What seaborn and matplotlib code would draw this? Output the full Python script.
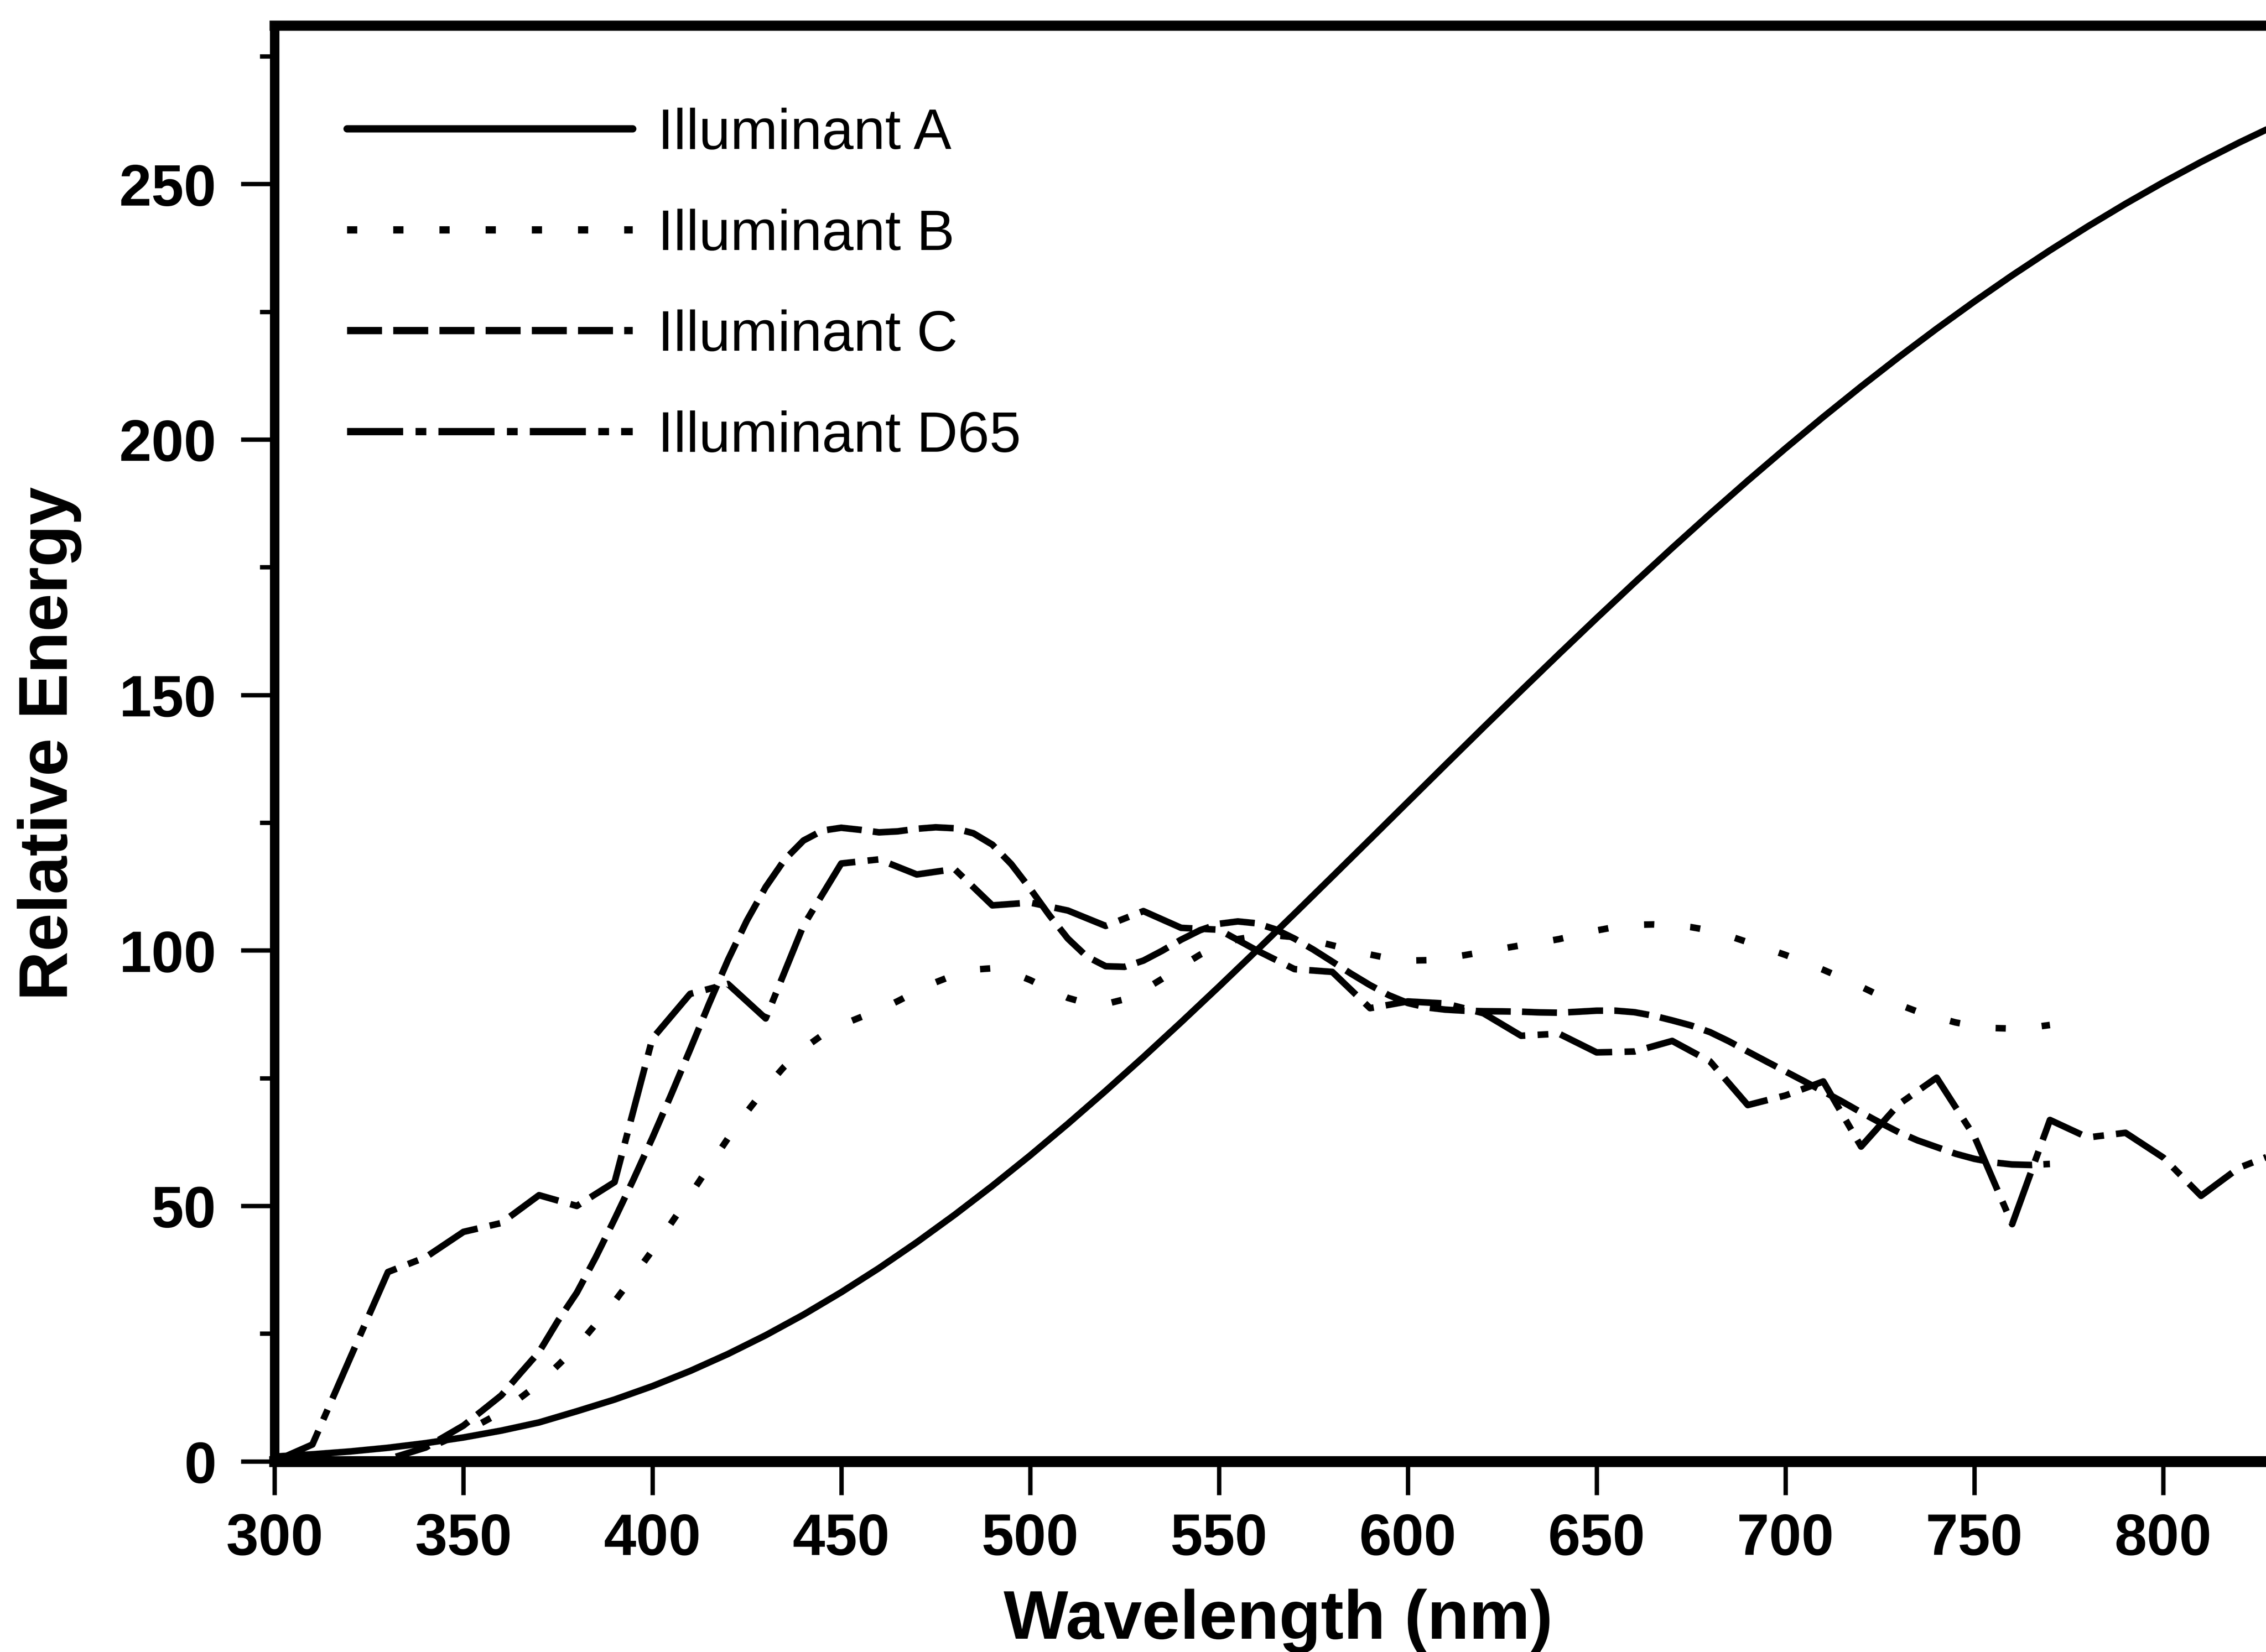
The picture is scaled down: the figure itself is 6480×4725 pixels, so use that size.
import matplotlib
matplotlib.use("Agg")
import matplotlib.pyplot as plt
import seaborn as sns
from matplotlib.ticker import MultipleLocator

# ---------------- data ----------------
wavelength_a = list(range(300, 831, 10))
illuminant_a = [0.93, 1.37, 1.93, 2.65, 3.56, 4.67, 6.01, 7.61, 9.80, 12.09,
                14.71, 17.68, 21.00, 24.67, 28.70, 33.09, 37.81, 42.87, 48.24, 53.91,
                59.86, 66.06, 72.50, 79.13, 85.95, 92.91, 100.00, 107.18, 114.44, 121.73,
                129.04, 136.35, 143.62, 150.84, 157.98, 165.03, 171.96, 178.77, 185.43, 191.93,
                198.26, 204.41, 210.36, 216.12, 221.67, 227.00, 232.12, 237.01, 241.68, 246.12,
                250.33, 254.31, 258.07, 261.60]

wavelength_bc = list(range(320, 771, 5))
illuminant_b = [0.02, 0.26, 0.50, 1.45, 2.40, 4.00, 5.60, 7.60, 9.60, 12.40,
                15.20, 18.80, 22.40, 26.85, 31.30, 36.18, 41.30, 46.62, 52.10, 57.70,
                63.20, 68.37, 73.10, 77.31, 80.80, 83.44, 85.40, 86.88, 88.30, 90.08,
                92.00, 93.75, 95.20, 96.23, 96.50, 95.71, 94.20, 92.37, 90.70, 89.65,
                89.50, 90.43, 92.20, 94.46, 96.90, 99.16, 101.00, 102.20, 102.80, 102.92,
                102.60, 101.90, 101.00, 100.07, 99.20, 98.44, 98.00, 98.08, 98.50, 99.06,
                99.70, 100.36, 101.00, 101.56, 102.20, 103.05, 103.90, 104.59, 105.00, 105.08,
                104.90, 104.55, 103.90, 102.84, 101.60, 100.38, 99.10, 97.70, 96.20, 94.60,
                92.90, 91.10, 89.40, 88.00, 86.90, 85.90, 85.20, 84.80, 84.70, 84.90,
                85.40]
illuminant_c = [0.01, 0.20, 0.40, 1.55, 2.70, 4.85, 7.00, 9.95, 12.90, 17.20,
                21.40, 27.50, 33.00, 39.92, 47.40, 55.17, 63.30, 71.81, 80.60, 89.53,
                98.10, 105.80, 112.40, 117.75, 121.50, 123.45, 124.00, 123.60, 123.10, 123.30,
                123.80, 124.09, 123.90, 122.92, 120.70, 116.90, 112.10, 106.98, 102.30, 98.81,
                96.90, 96.78, 98.00, 99.94, 102.10, 103.95, 105.20, 105.67, 105.30, 104.11,
                102.30, 100.15, 97.80, 95.43, 93.20, 91.22, 89.70, 88.83, 88.40, 88.19,
                88.10, 88.06, 88.00, 87.86, 87.80, 87.99, 88.20, 88.20, 87.90, 87.22,
                86.30, 85.30, 84.00, 82.21, 80.20, 78.24, 76.30, 74.36, 72.40, 70.40,
                68.30, 66.30, 64.40, 62.80, 61.50, 60.20, 59.20, 58.50, 58.10, 58.00,
                58.20]

wavelength_d65 = list(range(300, 831, 10))
illuminant_d65 = [0.03, 3.29, 20.24, 37.05, 39.95, 44.91, 46.64, 52.09, 49.98, 54.65,
                  82.75, 91.49, 93.43, 86.68, 104.87, 117.01, 117.81, 114.86, 115.92, 108.81,
                  109.35, 107.80, 104.79, 107.69, 104.41, 104.05, 100.00, 96.33, 95.79, 88.69,
                  90.01, 89.60, 87.70, 83.29, 83.70, 80.03, 80.21, 82.28, 78.28, 69.72,
                  71.61, 74.35, 61.60, 69.89, 75.09, 63.59, 46.42, 66.81, 63.38, 64.30,
                  59.45, 51.96, 57.44, 60.31]

labels = ["Illuminant A", "Illuminant B", "Illuminant C", "Illuminant D65"]
x_ticks = [300, 350, 400, 450, 500, 550, 600, 650, 700, 750, 800]
y_ticks = [0, 50, 100, 150, 200, 250]

# ---------------- style ----------------
sns.set_theme(style="white")
plt.rcParams["font.family"] = ["Liberation Sans", "DejaVu Sans"]
plt.rcParams["lines.scale_dashes"] = False

fig = plt.figure(figsize=(21.6, 15.7533), dpi=300)
ax = fig.add_axes([0.1212, 0.1154, 0.8788, 0.8689])

lw = 4.5
styles = [
    "-",
    (0, (7.0, 24.7)),
    (0, (24.0, 7.7)),
    (0, (38.5, 8.5, 7.4, 8.3)),
]
series = [
    (wavelength_a, illuminant_a),
    (wavelength_bc, illuminant_b),
    (wavelength_bc, illuminant_c),
    (wavelength_d65, illuminant_d65),
]
for (xs, ys), lab, ls in zip(series, labels, styles):
    sns.lineplot(x=xs, y=ys, ax=ax, color="black", linewidth=lw,
                 linestyle=ls, label=lab, estimator=None, sort=False)

ax.set_xlim(300, 827.2)
ax.set_ylim(0, 281)
ax.set_xticks(x_ticks)
ax.set_yticks(y_ticks)
ax.yaxis.set_minor_locator(MultipleLocator(25))

ax.tick_params(axis="both", which="major", direction="out", length=23, width=3,
               color="black", labelsize=40, labelcolor="black")
ax.tick_params(axis="x", which="major", pad=12, bottom=True, top=False)
ax.tick_params(axis="y", which="major", pad=17, left=True, right=False)
ax.tick_params(axis="y", which="minor", direction="out", length=10, width=3,
               left=True, right=False, color="black")
for t in ax.get_xticklabels() + ax.get_yticklabels():
    t.set_fontweight("bold")

for side in ["left", "top", "bottom"]:
    ax.spines[side].set_visible(True)
    ax.spines[side].set_color("black")
ax.spines["left"].set_linewidth(6.5)
ax.spines["top"].set_linewidth(7)
ax.spines["bottom"].set_linewidth(7.5)
ax.spines["right"].set_visible(False)

ax.set_xlabel("Wavelength (nm)", fontsize=47, fontweight="bold", color="black")
ax.set_ylabel("Relative Energy", fontsize=47, fontweight="bold", color="black")
ax.xaxis.set_label_coords(0.504, -0.0885)
ax.xaxis.label.set_va("top")
ax.yaxis.set_label_coords(-0.0968, 0.5)

leg = ax.legend(loc="upper left", bbox_to_anchor=(0.0363, 0.943), frameon=False,
                fontsize=39, handlelength=5.03, handletextpad=0.44,
                labelspacing=0.84, borderpad=0, borderaxespad=0)
for h in leg.get_lines():
    h.set_linewidth(5.0)
for t in leg.get_texts():
    t.set_color("black")

ax.set_facecolor("white")
fig.patch.set_facecolor("white")
fig.savefig("out.png", dpi=300, facecolor="white")
